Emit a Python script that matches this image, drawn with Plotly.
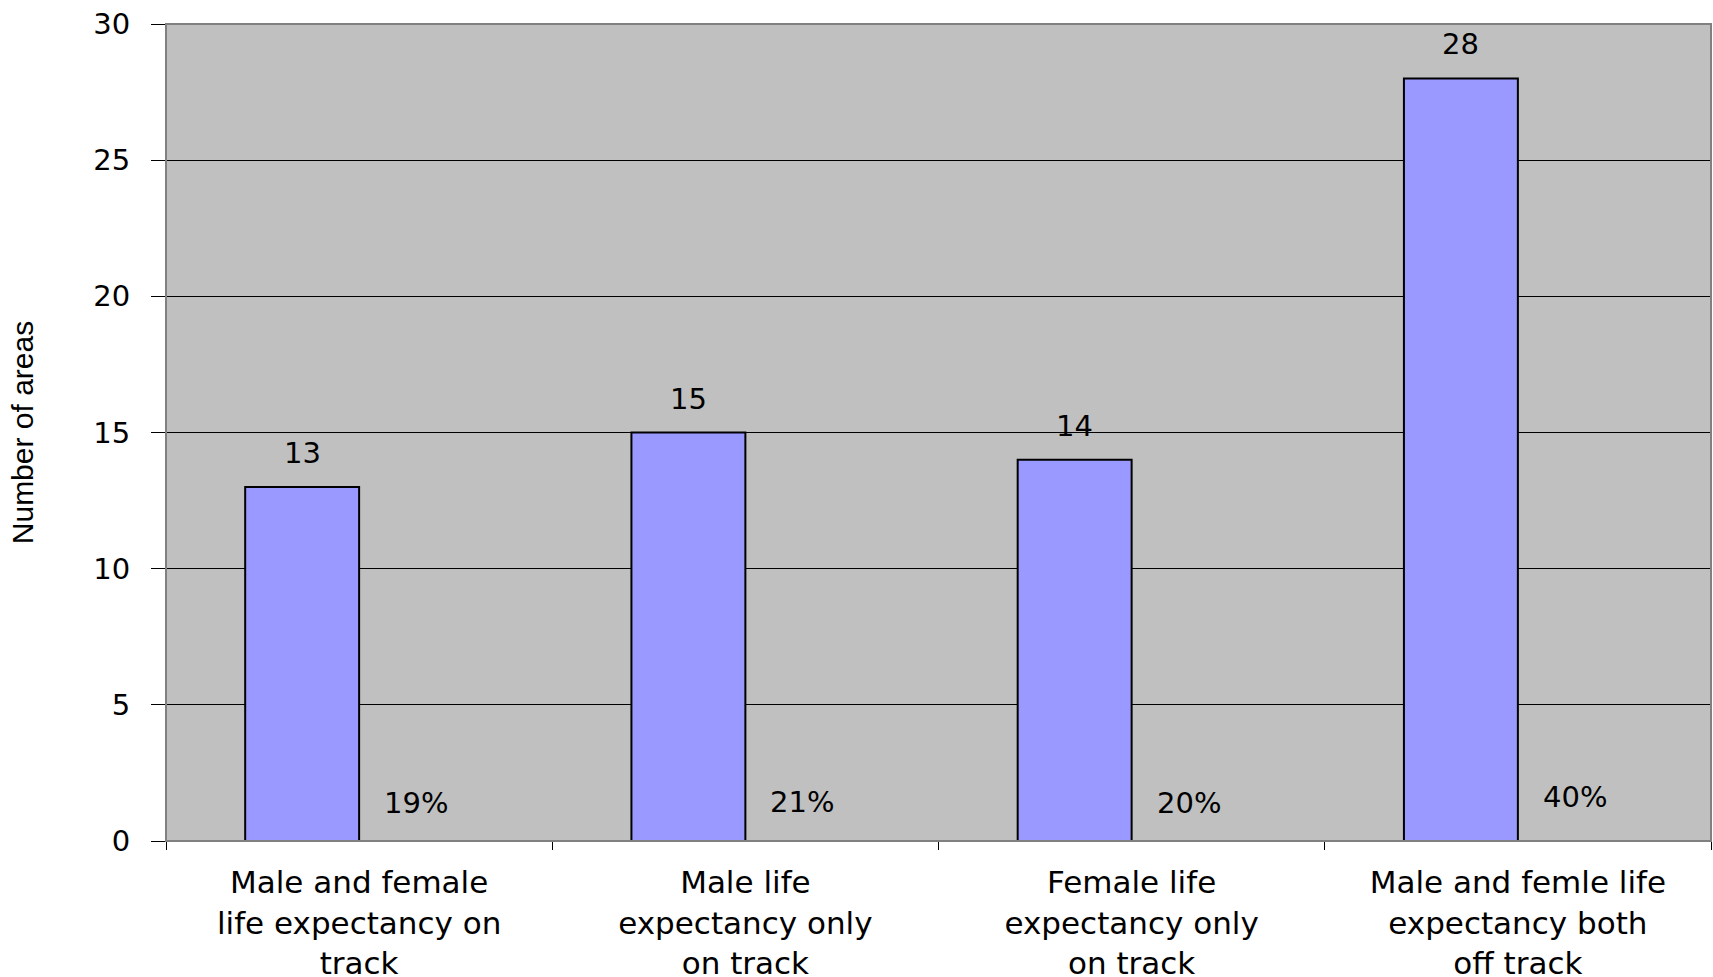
import plotly.graph_objects as go

# Categories (multi-line tick labels)
categories = [
    "Male and female<br>life expectancy on<br>track",
    "Male life<br>expectancy only<br>on track",
    "Female life<br>expectancy only<br>on track",
    "Male and femle life<br>expectancy both<br>off track",
]
# Number of areas per category
counts = [13, 15, 14, 28]
# Share of all areas
shares = [0.19, 0.21, 0.20, 0.40]
share_labels = ["19%", "21%", "20%", "40%"]

y_ticks = [0, 5, 10, 15, 20, 25, 30]

BAR_GAP = 0.41
LABEL_FONT = dict(family="DejaVu Sans", size=29, color="black")

fig = go.Figure()
fig.add_bar(
    x=categories, y=counts, name="Number of areas",
    marker=dict(color="#9999FF", line=dict(color="black", width=2)),
    hoverinfo="skip",
)
fig.add_bar(
    x=categories, y=shares, name="Share",
    marker=dict(color="rgba(0,0,0,0)", line=dict(width=0)),
    hoverinfo="skip",
)

# half a bar width, in category units, for placing the value labels
half = (1 - BAR_GAP) / 4
annotations = []
for i, (c, s, sl) in enumerate(zip(counts, shares, share_labels)):
    annotations.append(dict(x=i - half, y=c, xref="x", yref="y", text=str(c),
                            showarrow=False, yshift=34, yanchor="middle",
                            font=LABEL_FONT))
    annotations.append(dict(x=i + half, y=s, xref="x", yref="y", text=sl,
                            showarrow=False, yshift=33, yanchor="middle",
                            font=LABEL_FONT))

fig.update_layout(
    width=1713, height=977,
    margin=dict(l=166, r=2, t=24, b=136),
    paper_bgcolor="white",
    plot_bgcolor="#C0C0C0",
    barmode="group",
    bargap=BAR_GAP,
    bargroupgap=0,
    showlegend=False,
    annotations=annotations,
    shapes=[dict(type="rect", xref="x domain", yref="y domain",
                 x0=0, x1=1, y0=0, y1=1,
                 line=dict(color="#808080", width=2), layer="above")],
)
fig.update_xaxes(
    type="category", automargin=False,
    showline=True, linecolor="black", linewidth=1,
    ticks="outside", tickson="boundaries", ticklen=8, tickcolor="black",
    ticklabelstandoff=14,
    showgrid=False,
    tickfont=dict(family="DejaVu Sans", size=31, color="black"),
)
fig.update_yaxes(
    range=[0, 30], tickvals=y_ticks, automargin=False,
    showline=True, linecolor="black", linewidth=1,
    ticks="outside", ticklen=14, tickcolor="black",
    ticklabelstandoff=15,
    showgrid=True, gridcolor="black", gridwidth=1,
    zeroline=False,
    tickfont=dict(family="DejaVu Sans", size=29, color="black"),
    title=dict(text="Number of areas",
               font=dict(family="Liberation Sans", size=30, color="black"),
               standoff=50),
)

fig.write_html("out.html")
